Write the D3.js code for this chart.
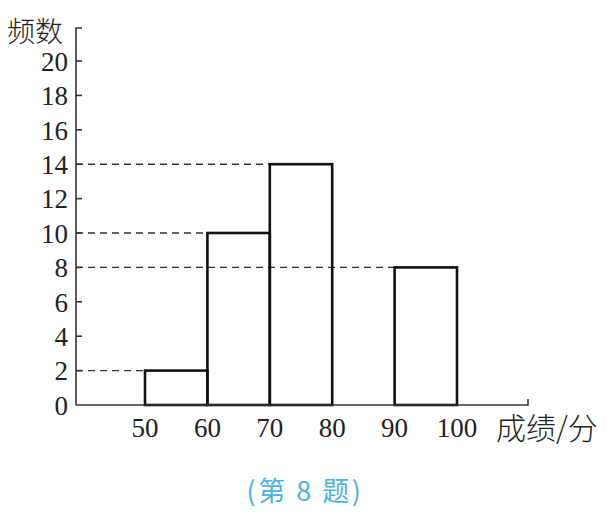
<!DOCTYPE html>
<html><head><meta charset="utf-8">
<script src="https://cdn.jsdelivr.net/npm/d3@7"></script>
<style>body{margin:0;background:#fff}svg{display:block}</style>
</head><body>
<svg id="c" width="607" height="513"></svg>
<script>
const binStarts = [50, 60, 70, 80, 90];
const binEnds = [60, 70, 80, 90, 100];
const counts = [2, 10, 14, 0, 8];
const xTicks = [50, 60, 70, 80, 90, 100];
const yTicks = [0, 2, 4, 6, 8, 10, 12, 14, 16, 18, 20];
const yLabel = "频数";
const xLabel = "成绩/分";
const caption = "(第 8 题)";

const svg = d3.select("#c");
const x = d3.scaleLinear().domain([50, 100]).range([145, 457]);
const y = d3.scaleLinear().domain([0, 20]).range([405, 61]);
const x0 = 76, xEnd = 528, yTop = 28;
const serif = "'Liberation Serif','Times New Roman',serif";
const cjk = "'Noto Sans CJK SC',sans-serif";

// dashed guide lines
const data = binStarts.map((s, i) => ({s, e: binEnds[i], c: counts[i]})).filter(d => d.c > 0);
svg.append("g").selectAll("line").data(data).join("line")
  .attr("x1", x0).attr("x2", d => x(d.s))
  .attr("y1", d => y(d.c)).attr("y2", d => y(d.c))
  .attr("stroke", "#333").attr("stroke-width", 1.4).attr("stroke-dasharray", "7,5");

// bars
svg.append("g").selectAll("rect").data(data).join("rect")
  .attr("x", d => x(d.s)).attr("width", d => x(d.e) - x(d.s))
  .attr("y", d => y(d.c)).attr("height", d => y(0) - y(d.c))
  .attr("fill", "none").attr("stroke", "#111").attr("stroke-width", 2.6);

// axes lines
const ax = svg.append("g").attr("stroke", "#333").attr("stroke-width", 1.6).attr("fill", "none");
ax.append("path").attr("d", `M${x0 + 6},${yTop}H${x0}V${y(0)}H${xEnd}V${y(0) - 6}`);
// y ticks
ax.selectAll("line.t").data(yTicks.filter(v => v > 0)).join("line")
  .attr("x1", x0).attr("x2", x0 + 6).attr("y1", d => y(d)).attr("y2", d => y(d));

// y tick labels
svg.append("g").selectAll("text").data(yTicks).join("text")
  .attr("x", 68).attr("y", d => y(d)).attr("dy", "0.36em")
  .attr("text-anchor", "end").attr("font-family", serif).attr("font-size", 27)
  .attr("fill", "#222").text(d => d);

// x tick labels
svg.append("g").selectAll("text").data(xTicks).join("text")
  .attr("x", d => x(d)).attr("y", 437)
  .attr("text-anchor", "middle").attr("font-family", serif).attr("font-size", 27)
  .attr("fill", "#222").text(d => d);

svg.append("text").attr("x", 7).attr("y", 42).attr("font-family", cjk).attr("font-size", 28)
  .attr("font-weight", 300).attr("fill", "#222").text(yLabel);
svg.append("text").attr("x", 496).attr("y", 439).attr("font-family", cjk).attr("font-size", 30)
  .attr("font-weight", 300).attr("fill", "#222").text(xLabel);
svg.append("text").attr("x", 305).attr("y", 501).attr("text-anchor", "middle")
  .attr("font-family", cjk).attr("font-size", 27).attr("letter-spacing", 2.5)
  .attr("fill", "#4fb0e6").text(caption);
</script>
</body></html>
